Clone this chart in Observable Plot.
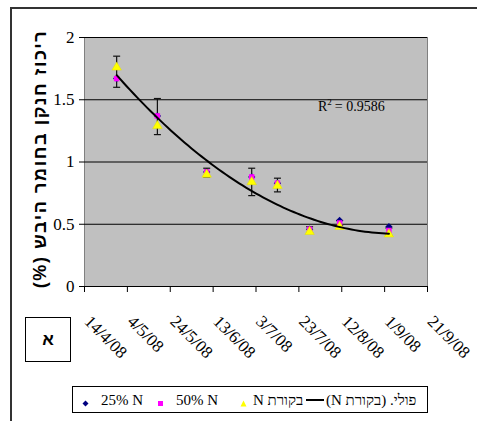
<!DOCTYPE html>
<html><head><meta charset="utf-8">
<script src="https://cdn.jsdelivr.net/npm/d3@7"></script>
<script src="https://cdn.jsdelivr.net/npm/@observablehq/plot@0.6"></script>
<style>
body{margin:0;background:#fff;}
#wrap{position:relative;width:477px;height:421px;overflow:hidden;font-family:"Liberation Serif","Times New Roman",serif;}
#wrap svg{position:absolute;left:0;top:0;}
.abs{position:absolute;}
#frameBorder{left:10px;top:7px;width:500px;height:450px;border:2px solid #333;box-sizing:border-box;}
#alef{left:25px;top:317px;width:46px;height:45px;border:1.5px solid #000;box-sizing:border-box;display:flex;align-items:center;justify-content:center;font:bold 17px "Liberation Sans",Arial,sans-serif;}
#ytitle{left:40px;top:159px;transform:translate(-50%,-50%) rotate(-90deg);white-space:nowrap;font:bold 18px "Liberation Sans",Arial,sans-serif;letter-spacing:1.6px;}
#r2{left:318px;top:97px;font-size:14px;white-space:nowrap;}
#r2 sup{font-size:9px;vertical-align:6px;margin-right:3px;}
#legend{left:72px;top:386px;width:356px;height:27px;border:1px solid #000;box-sizing:border-box;font-size:15px;}
#legend .it{position:absolute;top:50%;transform:translateY(-50%);white-space:nowrap;}
</style></head><body><div id="wrap"></div>
<script>
// ---- data ----
const sampleDates = ["2008-04-29","2008-05-18","2008-06-10","2008-07-01","2008-07-13","2008-07-28","2008-08-11","2008-09-03"];
const n25     = [1.67, 1.37, 0.92, 0.88, 0.83, 0.46, 0.53, 0.48];
const n50     = [1.67, 1.37, 0.92, 0.88, 0.83, 0.46, 0.51, 0.45];
const control = [1.76, 1.29, 0.90, 0.84, 0.81, 0.44, 0.48, 0.42];
const errLow  = [1.60, 1.22, 0.88, 0.73, 0.76, 0.43, 0.49, 0.41];
const errHigh = [1.85, 1.51, 0.95, 0.95, 0.87, 0.48, 0.53, 0.47];
const tickDates  = ["2008-04-14","2008-05-04","2008-05-24","2008-06-13","2008-07-03","2008-07-23","2008-08-12","2008-09-01","2008-09-21"];
const tickLabels = ["14/4/08","4/5/08","24/5/08","13/6/08","3/7/08","23/7/08","12/8/08","1/9/08","21/9/08"];
const yTicks = [0, 0.5, 1, 1.5, 2];
const seriesNames = ["25% N", "50% N", "בקורת N"];
const trendName = "פולי. (בקורת N)";
const yTitle = "ריכוז חנקן בחומר היבש (%)";
const r2Text = "0.9586";
const panelLetter = "א";

// ---- build ----
const parse = s => new Date(s + "T00:00:00Z");
const rows = sampleDates.map((d, i) => ({date: parse(d), n25: n25[i], n50: n50[i], control: control[i], lo: errLow[i], hi: errHigh[i]}));
const ticks = tickDates.map(parse);
const labelOf = new Map(ticks.map((d, i) => [+d, tickLabels[i]]));

// quadratic (order 2 polynomial) least-squares trend of the control series
const t0 = +ticks[0];
const tx = rows.map(r => (+r.date - t0) / 864e5);
const ty = control;
function polyfit2(xs, ys) {
  const S = k => d3.sum(xs, x => x ** k);
  const T = k => d3.sum(xs, (x, i) => x ** k * ys[i]);
  const A = [[S(0), S(1), S(2)], [S(1), S(2), S(3)], [S(2), S(3), S(4)]];
  const B = [T(0), T(1), T(2)];
  const n = 3;
  for (let i = 0; i < n; i++) {
    let p = i; for (let j = i + 1; j < n; j++) if (Math.abs(A[j][i]) > Math.abs(A[p][i])) p = j;
    [A[i], A[p]] = [A[p], A[i]]; [B[i], B[p]] = [B[p], B[i]];
    for (let j = i + 1; j < n; j++) { const f = A[j][i] / A[i][i]; for (let k = i; k < n; k++) A[j][k] -= f * A[i][k]; B[j] -= f * B[i]; }
  }
  const c = [0, 0, 0];
  for (let i = n - 1; i >= 0; i--) { let s = B[i]; for (let k = i + 1; k < n; k++) s -= A[i][k] * c[k]; c[i] = s / A[i][i]; }
  return c;
}
const coef = polyfit2(tx, ty);
const tMin = d3.min(tx), tMax = d3.max(tx);
const trend = d3.range(0, 81).map(i => { const t = tMin + (tMax - tMin) * i / 80; return {date: new Date(t0 + t * 864e5), y: coef[0] + coef[1] * t + coef[2] * t * t}; });

const capSymbol = {draw(ctx, size) { const r = Math.sqrt(size / Math.PI); ctx.moveTo(-r, 0); ctx.lineTo(r, 0); }};

const plot = Plot.plot({
  width: 477, height: 421,
  marginLeft: 84, marginRight: 50, marginTop: 37, marginBottom: 135,
  style: {fontFamily: '"Liberation Serif","Times New Roman",serif', fontSize: "17px", background: "transparent", color: "#000"},
  x: {type: "utc", domain: [ticks[0], ticks[ticks.length - 1]]},
  y: {domain: [0, 2]},
  marks: [
    Plot.frame({fill: "#C0C0C0", stroke: "#808080"}),
    Plot.gridY(yTicks.filter(v => v > 0), {stroke: "#000", strokeOpacity: 1, strokeWidth: 1}),
    Plot.axisY({ticks: yTicks, tickSize: 5, tickPadding: 5, tickFormat: d => String(d), label: null, fontSize: 17}),
    Plot.axisX({ticks: ticks, tickSize: 6, tickFormat: () => "", label: null}),
    Plot.text(ticks, {x: d => d, frameAnchor: "bottom", dy: 36, dx: -1, rotate: 45, textAnchor: "start", text: d => labelOf.get(+d), fontSize: 17}),
    Plot.ruleX([0], {}),
    Plot.ruleY([0], {}),
    Plot.link(rows, {x1: "date", x2: "date", y1: "lo", y2: "hi", stroke: "#111", strokeWidth: 1.2}),
    Plot.dot(rows, {x: "date", y: "lo", symbol: capSymbol, r: 3.5, stroke: "#111", strokeWidth: 1.2, fill: "none"}),
    Plot.dot(rows, {x: "date", y: "hi", symbol: capSymbol, r: 3.5, stroke: "#111", strokeWidth: 1.2, fill: "none"}),
    Plot.dot(rows, {x: "date", y: "n25", symbol: "diamond2", r: 3.3, fill: "#000080"}),
    Plot.dot(rows, {x: "date", y: "n50", symbol: "square", r: 3.1, fill: "#FF00FF"}),
    Plot.dot(rows, {x: "date", y: "control", symbol: "triangle", r: 3.5, fill: "#FFFF00", stroke: "#E0E000", strokeWidth: 0.5}),
    Plot.line(trend, {x: "date", y: "y", stroke: "#000", strokeWidth: 2, curve: "linear"})
  ]
});

const wrap = document.getElementById("wrap");
wrap.appendChild(plot);

function add(html) { wrap.insertAdjacentHTML("beforeend", html); }
add(`<div id="frameBorder" class="abs"></div>`);
add(`<div id="alef" class="abs">${panelLetter}</div>`);
add(`<div id="ytitle" class="abs" dir="rtl">${yTitle}</div>`);
add(`<div id="r2" class="abs">R<sup>2</sup>= ${r2Text}</div>`);
const sym = (shape, color) => {
  const s = shape === "diamond" ? `<path d="M3.5,0.5L6.5,3.5L3.5,6.5L0.5,3.5Z" fill="${color}"/>`
    : shape === "square" ? `<rect x="1" y="1" width="5" height="5" fill="${color}"/>`
    : `<path d="M3.5,0.5L6.5,6.5L0.5,6.5Z" fill="${color}"/>`;
  return `<svg width="7" height="7" style="display:block">${s}</svg>`;
};
add(`<div id="legend" class="abs">
  <div class="it" style="left:9px">${sym("diamond", "#000080")}</div>
  <div class="it" style="left:28px">${seriesNames[0]}</div>
  <div class="it" style="left:84px">${sym("square", "#FF00FF")}</div>
  <div class="it" style="left:103px">${seriesNames[1]}</div>
  <div class="it" style="left:167px">${sym("triangle", "#FFFF00")}</div>
  <div class="it" style="left:180px" dir="rtl">${seriesNames[2]}</div>
  <div class="it" style="left:233px;width:18px;height:2px;background:#000"></div>
  <div class="it" style="left:253px" dir="rtl">${trendName}</div>
</div>`);
</script>
</body></html>
